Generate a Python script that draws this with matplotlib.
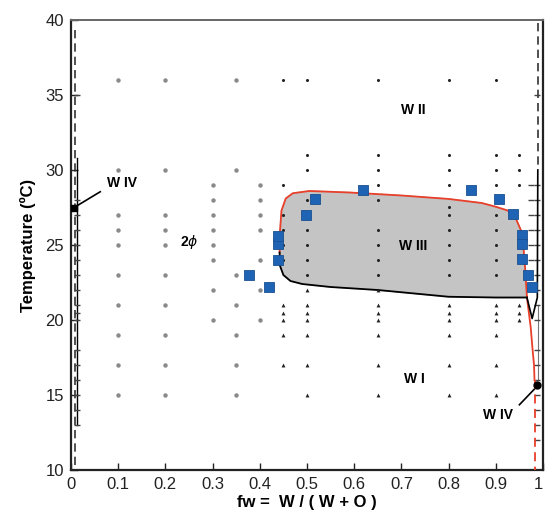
import matplotlib
matplotlib.use("Agg")
import matplotlib.pyplot as plt

plt.rcParams['font.family'] = ['Liberation Sans', 'DejaVu Sans']

# sample grid: grey circles (two-phase region)
grey_cols = [0.1, 0.2, 0.3, 0.35, 0.4]
grey_temps = [
    [36, 30, 27, 26, 25, 23, 21, 19, 17, 15],
    [36, 30, 27, 26, 25, 23, 21, 19, 17, 15],
    [29, 28, 27, 26, 25, 24, 22, 20],
    [36, 30, 23, 21, 19, 17, 15],
    [29, 28, 27, 26, 24, 22, 20],
]

# small black triangles (W I region)
tri_cols = [0.45, 0.5, 0.65, 0.8, 0.9, 0.95]
tri_temps = [
    [21, 20.5, 20, 19, 17],
    [22, 21, 20.5, 20, 19, 17, 15],
    [22, 21, 20.5, 20, 19, 17, 15],
    [21, 20.5, 20, 19, 17, 15],
    [21, 20.5, 20, 19, 17, 15],
    [21, 20.5, 20],
]

# small black dots (W III / W II region)
dot_cols = [0.45, 0.5, 0.65, 0.8, 0.9, 0.95]
dot_temps = [
    [36, 29, 27, 26, 25, 24],
    [36, 31, 30, 28, 26, 25, 24, 23],
    [36, 31, 30, 29, 28, 26, 25, 24, 23],
    [36, 31, 30, 29, 27.5, 27, 26, 25, 24, 23],
    [36, 31, 30, 29, 28, 27, 26, 25, 24, 23],
    [31, 30, 29],
]

# dash marks along the pure-component edges
left_dash_x = 0.012
left_dash_T = [35, 28, 27, 26, 25, 24, 23, 22, 21, 20.5, 20, 18, 17, 16, 15, 14, 13]
right_dash_x = 0.987
right_dash_T = [35, 29, 28, 27, 26, 25, 24, 23, 22, 21, 20, 18, 17, 16, 15, 14, 13, 12]
mid_dash_x = 0.975
mid_dash_T = [29, 28, 27, 26, 25, 24]

# measured phase boundary (blue squares)
sq_fw = [0.378, 0.419, 0.438, 0.438, 0.438, 0.498, 0.518, 0.618, 0.847,
         0.907, 0.937, 0.956, 0.956, 0.956, 0.968, 0.977]
sq_T = [23.0, 22.2, 24.0, 25.05, 25.6, 27.0, 28.05, 28.67, 28.67,
        28.05, 27.07, 25.67, 25.05, 24.07, 23.0, 22.2]

# upper (red) boundary of W III
up_fw = [0.442, 0.443, 0.446, 0.455, 0.47, 0.505, 0.59, 0.70, 0.80, 0.87,
         0.90, 0.925, 0.942, 0.953, 0.958, 0.961, 0.964, 0.966]
up_T = [24.5, 26.0, 27.3, 28.1, 28.45, 28.6, 28.5, 28.3, 28.07, 27.8,
        27.55, 27.3, 26.8, 26.0, 25.0, 24.0, 22.5, 21.5]
# red continuation towards W IV (oil-rich side)
red_fw = [0.966, 0.970, 0.974, 0.978, 0.981, 0.982]
red_T = [21.5, 20.5, 19.5, 18.0, 17.0, 16.0]
red_dash_fw = [0.982, 0.982]
red_dash_T = [16.0, 10.0]

# lower (black) boundary of W III
lo_fw = [0.442, 0.443, 0.450, 0.465, 0.49, 0.55, 0.65, 0.80, 0.90, 0.966]
lo_T = [24.5, 23.6, 23.0, 22.6, 22.4, 22.2, 22.0, 21.55, 21.5, 21.5]
v_fw = [0.966, 0.977, 0.988, 0.989]
v_T = [21.5, 20.1, 21.5, 30.0]

fig = plt.figure(figsize=(5.46, 5.23), dpi=100)
ax = fig.add_axes([0.130, 0.1013, 0.8645, 0.8605])

# shaded W III region
poly_x = up_fw + lo_fw[::-1]
poly_y = up_T + lo_T[::-1]
ax.fill(poly_x, poly_y, color='#c4c4c4', zorder=1)
ax.plot(up_fw, up_T, color='#e8402a', lw=1.3, zorder=3)
ax.plot(red_fw, red_T, color='#e8402a', lw=1.3, zorder=3)
ax.plot(red_dash_fw, red_dash_T, color='#e8402a', lw=1.3, ls=(0, (5, 3)), zorder=3)
ax.plot(lo_fw, lo_T, color='black', lw=1.3, zorder=3)
ax.plot(v_fw, v_T, color='black', lw=1.2, zorder=3)
ax.plot([0.99, 0.99], [21.0, 16.0], color='#777777', lw=0.8, zorder=2)

# edge lines
ax.plot([0.008, 0.008], [39.3, 10.0], color='#333333', lw=1.2, ls=(0, (5, 3)))
ax.plot([0.012, 0.012], [30.8, 13.0], color='black', lw=1.0)
ax.plot([0.99, 0.99], [39.8, 30.0], color='#333333', lw=1.2, ls=(0, (5, 3)))

for c, ts in zip(grey_cols, grey_temps):
    ax.plot([c] * len(ts), ts, 'o', color='#8a8a8a', ms=3.2, mec='none', zorder=4)
for c, ts in zip(tri_cols, tri_temps):
    ax.plot([c] * len(ts), ts, '^', color='#222222', ms=2.8, mec='none', zorder=4)
for c, ts in zip(dot_cols, dot_temps):
    ax.plot([c] * len(ts), ts, 'o', color='#222222', ms=2.2, mec='none', zorder=4)

ax.plot([left_dash_x] * len(left_dash_T), left_dash_T, '_', color='#444444', ms=5, mew=1.0)
ax.plot([right_dash_x] * len(right_dash_T), right_dash_T, '_', color='#444444', ms=5, mew=1.0)
ax.plot([mid_dash_x] * len(mid_dash_T), mid_dash_T, '_', color='#444444', ms=4, mew=1.0)

ax.plot(sq_fw, sq_T, 's', color='#1f64b4', mec='#1a4f8f', ms=6.5, mew=0.6, zorder=5)

# W IV markers and leaders
ax.plot([0.006], [27.45], 's', color='black', ms=4, zorder=6)
ax.plot([0.012, 0.062], [27.6, 28.55], color='black', lw=1.2)
ax.plot([0.988], [15.65], 'o', color='black', ms=5, zorder=6)
ax.plot([0.985, 0.950], [15.5, 14.35], color='black', lw=1.2)

lab = dict(fontsize=10, fontweight='bold', ha='center', va='center')
ax.text(0.108, 29.1, 'W IV', **lab)
ax.text(0.905, 13.65, 'W IV', **lab)
ax.text(0.725, 34.0, 'W II', **lab)
ax.text(0.725, 24.9, 'W III', **lab)
ax.text(0.727, 16.1, 'W I', **lab)
ax.text(0.25, 25.2, r'2$\phi$', **lab)

ax.set_xlim(0, 1)
ax.set_ylim(10, 40)
ax.set_xticks([0, 0.1, 0.2, 0.3, 0.4, 0.5, 0.6, 0.7, 0.8, 0.9, 1])
ax.set_xticklabels(['0', '0.1', '0.2', '0.3', '0.4', '0.5', '0.6', '0.7', '0.8', '0.9', '1'])
ax.set_yticks([10, 15, 20, 25, 30, 35, 40])
ax.tick_params(direction='in', length=5, width=1, labelsize=12, colors='#222222', pad=5)
ax.get_xticklabels()[-1].set_horizontalalignment('right')

for s in ['left', 'bottom', 'right']:
    ax.spines[s].set_linewidth(1.6)
    ax.spines[s].set_color('#222222')
ax.spines['top'].set_linewidth(1.4)
ax.spines['top'].set_color('#666666')

ax.set_xlabel('fw =  W / ( W + O )', fontsize=12, fontweight='bold', labelpad=2)
ax.set_ylabel('Temperature (ºC)', fontsize=12, fontweight='bold', labelpad=7)

fig.savefig('out.png', dpi=100)
